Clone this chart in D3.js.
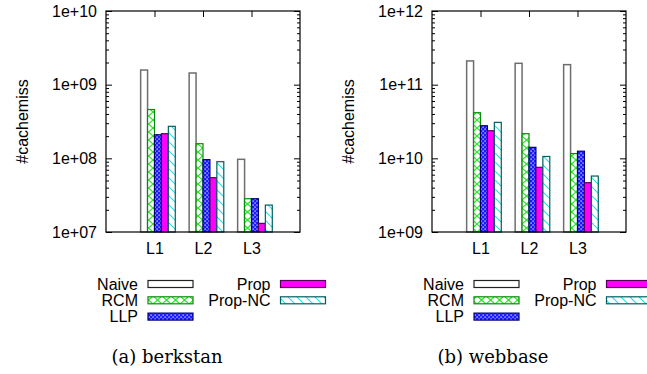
<!DOCTYPE html>
<html>
<head>
<meta charset="utf-8">
<script src="https://cdn.jsdelivr.net/npm/d3@7"></script>
<style>
  body { margin: 0; background: #fff; }
  svg { display: block; }
</style>
</head>
<body>
<script>
// categories and series
const levels = ['L1', 'L2', 'L3'];
const methods = ['Naive', 'RCM', 'LLP', 'Prop', 'Prop-NC'];

// (a) berkstan, #cachemiss per level
const berkstanNaive = [1.58e9, 1.44e9, 9.7e7];
const berkstanRCM = [4.6e8, 1.58e8, 2.83e7];
const berkstanLLP = [2.09e8, 9.6e7, 2.83e7];
const berkstanProp = [2.16e8, 5.46e7, 1.31e7];
const berkstanPropNC = [2.72e8, 9.0e7, 2.32e7];
const berkstanTicks = [1e7, 1e8, 1e9, 1e10];

// (b) webbase
const webbaseNaive = [2.1e11, 1.95e11, 1.87e11];
const webbaseRCM = [4.16e10, 2.16e10, 1.16e10];
const webbaseLLP = [2.77e10, 1.41e10, 1.25e10];
const webbaseProp = [2.37e10, 7.55e9, 4.67e9];
const webbasePropNC = [3.08e10, 1.06e10, 5.75e9];
const webbaseTicks = [1e9, 1e10, 1e11, 1e12];

const panels = [
	{ caption: '(a) berkstan', x0: 106, ticks: berkstanTicks,
	  series: [berkstanNaive, berkstanRCM, berkstanLLP, berkstanProp, berkstanPropNC] },
	{ caption: '(b) webbase', x0: 432, ticks: webbaseTicks,
	  series: [webbaseNaive, webbaseRCM, webbaseLLP, webbaseProp, webbasePropNC] }
];

const plotW = 194;
const yTop = 11;
const yBottom = 232;
const sans = 'Liberation Sans, Arial, Helvetica';

const fills = ['#ffffff', 'url(#pRCM)', 'url(#pLLP)', '#ff00ff', 'url(#pNC)'];
const strokes = ['#6e6e6e', '#0a8a0a', '#000070', '#5a005a', '#005f5f'];

const svg = d3.select('body').append('svg').attr('width', 647).attr('height', 374);

// hatch patterns like gnuplot's
const defs = svg.append('defs');
const pr = defs.append('pattern').attr('id', 'pRCM').attr('patternUnits', 'userSpaceOnUse')
	.attr('width', 9).attr('height', 8);
pr.append('rect').attr('width', 9).attr('height', 8).attr('fill', '#fff');
pr.append('path').attr('d', 'M0,0L9,8M9,0L0,8').attr('stroke', '#1ee61e').attr('stroke-width', 1.1);

const pl = defs.append('pattern').attr('id', 'pLLP').attr('patternUnits', 'userSpaceOnUse')
	.attr('width', 4).attr('height', 4);
pl.append('rect').attr('width', 4).attr('height', 4).attr('fill', '#1a1aff');
pl.append('rect').attr('x', 0.5).attr('y', 0.5).attr('width', 1.2).attr('height', 1.2).attr('fill', '#fff');
pl.append('rect').attr('x', 2.5).attr('y', 2.5).attr('width', 1.2).attr('height', 1.2).attr('fill', '#fff');

const pn = defs.append('pattern').attr('id', 'pNC').attr('patternUnits', 'userSpaceOnUse')
	.attr('width', 9).attr('height', 9);
pn.append('rect').attr('width', 9).attr('height', 9).attr('fill', '#fff');
pn.append('path').attr('d', 'M0,0L9,9M-9,0L0,9M9,0L18,9').attr('stroke', '#22e0f0').attr('stroke-width', 1.1);

function fmtExp(v) {
	const e = Math.round(Math.log10(v));
	return '1e+' + (e < 10 ? '0' + e : e);
}

panels.forEach(function (p) {
	const g = svg.append('g');
	const x = d3.scaleLinear().domain([0, 4]).range([p.x0, p.x0 + plotW]);
	const y = d3.scaleLog().domain([p.ticks[0], p.ticks[p.ticks.length - 1]]).range([yBottom, yTop]);

	const minors = [];
	for (let d = 0; d < p.ticks.length - 1; d++) {
		for (let m = 2; m <= 9; m++) minors.push(p.ticks[d] * m);
	}

	// y axis (left) + mirror (right), ticks inward
	const yAxis = g.append('g').attr('transform', 'translate(' + p.x0 + ',0)')
		.call(d3.axisLeft(y).tickValues(p.ticks).tickSize(-6).tickPadding(9).tickFormat(fmtExp));
	g.append('g').attr('transform', 'translate(' + p.x0 + ',0)')
		.call(d3.axisLeft(y).tickValues(minors).tickSize(-3).tickFormat(''));
	g.append('g').attr('transform', 'translate(' + (p.x0 + plotW) + ',0)')
		.call(d3.axisRight(y).tickValues(p.ticks).tickSize(-6).tickFormat(''));
	g.append('g').attr('transform', 'translate(' + (p.x0 + plotW) + ',0)')
		.call(d3.axisRight(y).tickValues(minors).tickSize(-3).tickFormat(''));

	// x axis (bottom) + mirror (top)
	const xAxis = g.append('g').attr('transform', 'translate(0,' + yBottom + ')')
		.call(d3.axisBottom(x).tickValues([1, 2, 3]).tickSize(-6).tickPadding(11)
			.tickFormat(function (d) { return levels[d - 1]; }));
	g.append('g').attr('transform', 'translate(0,' + yTop + ')')
		.call(d3.axisTop(x).tickValues([1, 2, 3]).tickSize(-6).tickFormat(''));

	g.selectAll('.domain').remove();
	g.selectAll('.tick line').attr('stroke', '#000');
	yAxis.attr('font-family', sans).attr('font-size', 16);
	xAxis.attr('font-family', sans).attr('font-size', 16);
	yAxis.selectAll('text').attr('fill', '#000');
	xAxis.selectAll('text').attr('fill', '#000');

	// bars: 5 per cluster, each 1/7 of a cluster unit
	methods.forEach(function (m, i) {
		g.append('g').selectAll('rect')
			.data(p.series[i])
			.enter()
			.append('rect')
			.attr('x', function (v, j) { return x(j + 1 + (i - 2) / 7); })
			.attr('width', x(1 / 7) - x(0))
			.attr('y', function (v) { return y(v); })
			.attr('height', function (v) { return yBottom - y(v); })
			.attr('fill', fills[i])
			.attr('stroke', strokes[i])
			.attr('stroke-width', i === 0 ? 1.5 : 1.2);
	});

	// frame
	g.append('rect').attr('x', p.x0).attr('y', yTop).attr('width', plotW).attr('height', yBottom - yTop)
		.attr('fill', 'none').attr('stroke', '#000').attr('stroke-width', 1.2);

	// y label
	g.append('text')
		.attr('transform', 'translate(' + (p.x0 - 84) + ',' + ((yTop + yBottom) / 2) + ') rotate(-90)')
		.attr('text-anchor', 'middle').attr('dy', '0.35em')
		.attr('font-family', sans).attr('font-size', 16)
		.text('#cachemiss');

	// legend: two columns
	const legendPos = [[0, 0], [0, 1], [0, 2], [1, 0], [1, 1]];
	methods.forEach(function (m, i) {
		const col = legendPos[i][0];
		const row = legendPos[i][1];
		const ly = 284 + row * 16.3;
		const tx = p.x0 + (col === 0 ? 32 : 164.5);
		g.append('text').attr('x', tx).attr('y', ly).attr('dy', '0.35em')
			.attr('text-anchor', 'end').attr('font-family', sans).attr('font-size', 16).text(m);
		g.append('rect').attr('x', tx + 10).attr('y', ly - 3.5).attr('width', 45).attr('height', 7)
			.attr('fill', fills[i]).attr('stroke', strokes[i] === '#6e6e6e' ? '#222' : strokes[i])
			.attr('stroke-width', 1.2);
	});

	// caption
	g.append('text').attr('x', p.x0 + 61).attr('y', 363).attr('text-anchor', 'middle')
		.attr('font-family', 'DejaVu Serif').attr('font-size', 18)
		.text(p.caption);
});
</script>
</body>
</html>
